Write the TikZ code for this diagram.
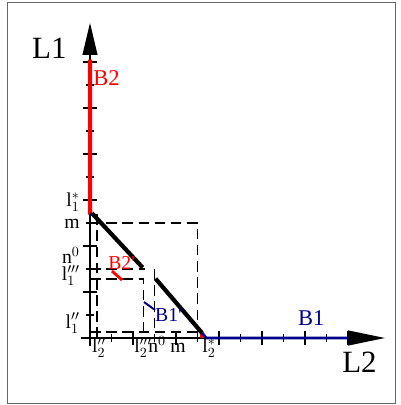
\documentclass[tikz,border=0pt]{standalone}
\usepackage{amsmath}
\usepackage{fontspec}
\setmainfont{Liberation Serif}
\usetikzlibrary{arrows.meta,calc}
\definecolor{BtwoClr}{rgb}{1,0,0}
\definecolor{BoneClr}{rgb}{0,0,0.55}
\definecolor{FrameClr}{rgb}{0.4,0.4,0.4}
\newcommand{\twopr}{\prime\prime}
\newcommand{\threepr}{\prime\prime\prime}

\begin{document}
\begin{tikzpicture}[x=0.5375cm,y=0.575cm,
  axis/.style={line width=1pt,black},
  guide/.style={line width=1pt,dash pattern=on 7.5pt off 4pt},
  tick/.style={font=\fontsize{14}{16}\selectfont,inner sep=0pt},
  big/.style={font=\fontsize{22}{24}\selectfont,inner sep=0pt},
  blab/.style={font=\fontsize{16}{18}\selectfont,inner sep=0pt},
  slab/.style={font=\fontsize{14}{16}\selectfont,inner sep=0pt}]
\useasboundingbox (-4.186,-2.913) rectangle (14.419,14.696);
\draw[FrameClr,line width=0.6pt] (-3.86,-2.83) rectangle (14.19,14.61);

% points
\coordinate (O) at (0,0);
\coordinate (Ybot) at (0,-0.35);
\coordinate (Ytip) at (0,13.7);
\coordinate (Xbot) at (-0.4,0);
\coordinate (Xtip) at (13.72,0);
\coordinate (Rtop) at (0,12.1);
\coordinate (Rbend) at (0,5.45);
\coordinate (P1) at (0.09,5.43);
\coordinate (Q1) at (2.45,3.06);
\coordinate (Q2) at (3.05,2.58);
\coordinate (P2) at (5.21,0.22);
\coordinate (Rfoot) at (5.23,0);
\coordinate (Bend) at (12,0);
\coordinate (Bbend) at (5.4,0);
\coordinate (Bfoot) at (0,5.33);

% dashed boxes
\draw[guide] (0,5) -- (5,5) -- (5,0);
\draw[guide] (0,3) -- (2.55,3);
\draw[guide] (3,3) -- (3,0);
\draw[guide] (0,2.565) -- (2.5,2.565) -- (2.5,0);
\draw[guide] (0.33,0) -- (0.33,5.4);
\draw[guide] (0,0.26) -- (5.2,0.26);

% axes
\draw[axis,-{Triangle[length=0.8cm,width=0.37cm]}] (Ybot) -- (Ytip);
\draw[axis,-{Triangle[length=0.92cm,width=0.37cm]}] (Xbot) -- (Xtip);
\foreach \k in {2,4,...,12}{
  \draw[axis] (\k,0) ++(0,-0.17cm) -- ++(0,0.34cm);
  \draw[axis] (0,\k) ++(-0.18cm,0) -- ++(0.36cm,0);
}
\foreach \k in {1,3,...,11}{
  \draw[axis] (\k,0) ++(0,-0.1cm) -- ++(0,0.2cm);
  \draw[axis] (0,\k) ++(-0.1cm,0) -- ++(0.2cm,0);
}

% B1 and B2
\draw[BtwoClr,line width=3.2pt] (Rtop) -- (Rbend) -- (P1);
\draw[BtwoClr,line width=3pt] (P2) -- (Rfoot);
\draw[BoneClr,line width=2.1pt] (Bend) -- (Bbend) -- (P2);
\draw[BoneClr,line width=1.6pt] (Bfoot) -- (P1);
\draw[line width=3pt] (P1) -- (Q1);
\draw[line width=3pt] (Q2) -- (P2);

% B2' and B1'
\coordinate (Ra) at (1.02,2.91);
\coordinate (Rb) at (1.49,2.52);
\coordinate (Ba) at (2.51,1.565);
\coordinate (Bb) at (3.02,1.22);
\draw[BtwoClr,line width=2pt] (Ra) -- (Rb);
\draw[BoneClr,line width=1.4pt] (Ba) -- (Bb);

% labels
\node[big,anchor=base west] (L1) at (-2.7,12.17) {L1};
\node[big,anchor=base west] (L2) at (11.72,-1.52) {L2};
\node[blab,anchor=base west,text=BtwoClr] (B2) at (0.14,11.0) {B2};
\node[blab,anchor=base west,text=BoneClr] (B1) at (9.67,0.565) {B1};
\node[slab,anchor=base west,text=BtwoClr] (B2p) at (0.84,2.96) {B2\textquotesingle};
\node[slab,anchor=base west,text=BoneClr] (B1p) at (3.02,0.70) {B1\textquotesingle};

\node[tick,anchor=base east] (lonestar) at (-0.47,5.7) {$\mathrm{l}_1^*$};
\node[tick,anchor=base east] (mone) at (-0.47,4.78) {m};
\node[tick,anchor=base east] (nzone) at (-0.47,3.22) {n$^0$};
\node[tick,anchor=base east] (lonethree) at (-0.47,2.5) {$\mathrm{l}_1^{\threepr}$};
\node[tick,anchor=base east] (lonetwo) at (-0.47,0.43) {$\mathrm{l}_1^{\twopr}$};

\node[tick,anchor=base west] (ltwotwo) at (0.09,-0.65) {$\mathrm{l}_2^{\twopr}$};
\node[tick,anchor=base west] (ltwothree) at (2.05,-0.65) {$\mathrm{l}_2^{\threepr}$};
\node[tick,anchor=base west] (nztwo) at (2.7,-0.65) {n$^0$};
\node[tick,anchor=base west] (mtwo) at (3.72,-0.65) {m};
\node[tick,anchor=base west] (ltwostar) at (5.21,-0.65) {$\mathrm{l}_2^*$};

\end{tikzpicture}
\end{document}
